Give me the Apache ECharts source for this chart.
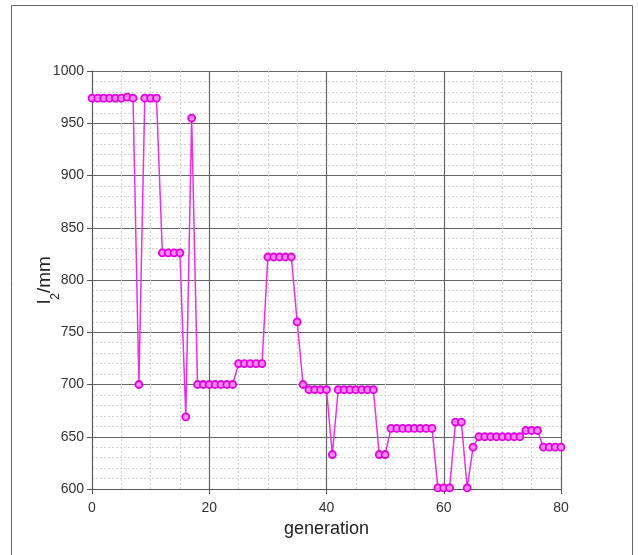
<!DOCTYPE html>
<html>
<head>
<meta charset="utf-8">
<script src="https://cdn.jsdelivr.net/npm/echarts@6/dist/echarts.min.js"></script>
<style>html,body{margin:0;padding:0;background:#fff}#c{width:638px;height:555px}</style>
</head>
<body>
<div id="c"></div>
<script>
const generations = Array.from({length: 81}, (_, i) => i);
const l2Values = [
  974, 974, 974, 974, 974, 974, 975, 974, 700, 974,
  974, 974, 826, 826, 826, 826, 669, 955, 700, 700,
  700, 700, 700, 700, 700, 720, 720, 720, 720, 720,
  822, 822, 822, 822, 822, 760, 700, 695, 695, 695,
  695, 633, 695, 695, 695, 695, 695, 695, 695, 633,
  633, 658, 658, 658, 658, 658, 658, 658, 658, 601,
  601, 601, 664, 664, 601, 640, 650, 650, 650, 650,
  650, 650, 650, 650, 656, 656, 656, 640, 640, 640,
  640
];
const xTicks = [0, 20, 40, 60, 80];
const yTicks = [600, 650, 700, 750, 800, 850, 900, 950, 1000];

const chart = echarts.init(document.getElementById('c'), null, {renderer: 'canvas'});
chart.setOption({
  backgroundColor: '#fff',
  animation: false,
  graphic: [{
    type: 'rect', shape: {x: 11.5, y: 5.5, width: 621, height: 560},
    style: {fill: 'none', stroke: '#666', lineWidth: 1}, z: -1
  }],
  grid: {left: 92, top: 71, right: 77, bottom: 66},
  xAxis: {
    type: 'value', min: xTicks[0], max: xTicks[xTicks.length - 1], interval: 20,
    name: 'generation', nameLocation: 'middle', nameGap: 29,
    nameTextStyle: {fontFamily: 'Liberation Sans', fontSize: 18, color: '#222'},
    axisLine: {show: true, lineStyle: {color: '#555', width: 1}},
    axisTick: {show: true, length: 5, lineStyle: {color: '#555'}},
    axisLabel: {fontFamily: 'Liberation Sans', fontSize: 14, color: '#333', margin: 12},
    splitLine: {show: true, lineStyle: {color: '#666', width: 1.2}},
    minorTick: {show: false, splitNumber: 4},
    minorSplitLine: {show: true, lineStyle: {color: '#d0d0d0', type: [2, 2], width: 1}}
  },
  yAxis: {
    type: 'value', min: yTicks[0], max: yTicks[yTicks.length - 1], interval: 50,
    name: 'l{s|2}/mm', nameLocation: 'middle', nameGap: 38, nameRotate: 90,
    nameMoveOverlap: false,
    nameTextStyle: {fontFamily: 'Liberation Sans', fontSize: 19, color: '#222',
      rich: {s: {fontFamily: 'Liberation Sans', fontSize: 12, color: '#222', verticalAlign: 'bottom', padding: [0, 0, -8, 0]}}},
    axisLine: {show: true, lineStyle: {color: '#555', width: 1}},
    axisTick: {show: true, length: 5, lineStyle: {color: '#555'}},
    axisLabel: {fontFamily: 'Liberation Sans', fontSize: 14, color: '#333', margin: 8,
      formatter: v => String(v)},
    splitLine: {show: true, lineStyle: {color: '#666', width: 1.2}},
    minorTick: {show: false, splitNumber: 5},
    minorSplitLine: {show: true, lineStyle: {color: '#d0d0d0', type: [2, 2], width: 1}}
  },
  series: [{
    type: 'line',
    data: generations.map((g, i) => [g, l2Values[i]]),
    symbol: 'circle', symbolSize: 7,
    lineStyle: {color: '#e830e8', width: 1.5},
    itemStyle: {color: '#ff88ff', borderColor: '#e000e0', borderWidth: 1.8}
  }]
});
</script>
</body>
</html>
